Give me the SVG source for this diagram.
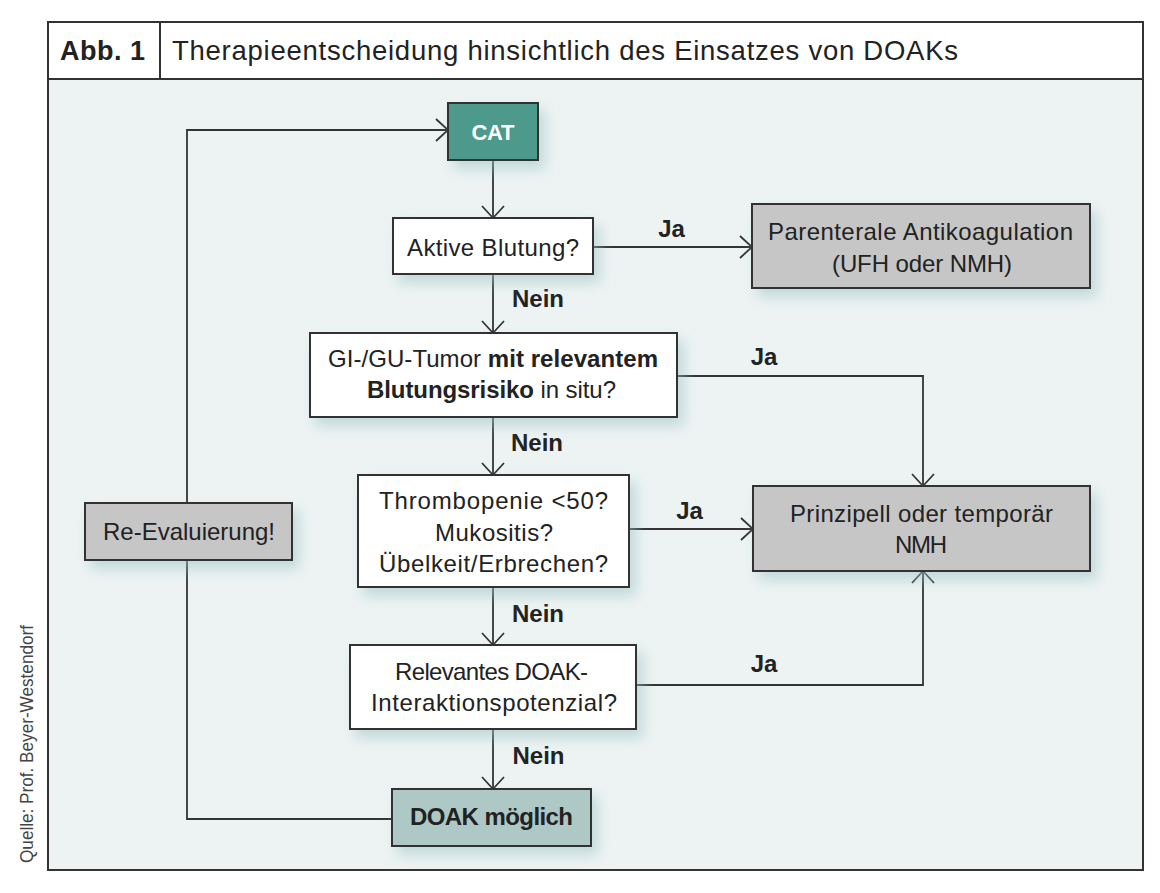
<svg xmlns="http://www.w3.org/2000/svg" width="1160" height="893" viewBox="0 0 1160 893">
<defs>
<style>
.t{font-family:"Liberation Sans",Arial,sans-serif;font-size:24px;fill:#222;text-anchor:middle}
.b{font-weight:bold}
.box{stroke:#333;stroke-width:2}
.w{fill:#fff}
.g{fill:#c6c6c6}
.c{fill:none;stroke:#333;stroke-width:1.8}
</style>
<marker id="arr" markerWidth="26" markerHeight="26" refX="13" refY="12" orient="auto" markerUnits="userSpaceOnUse">
<path d="M1,1 L13,12 L1,23" fill="none" stroke="#333" stroke-width="1.8"/>
</marker>
<filter id="sh" x="-20%" y="-30%" width="150%" height="180%">
<feDropShadow dx="6" dy="8" stdDeviation="7" flood-color="#9cc2c2" flood-opacity="0.55"/>
</filter>
</defs>
<rect x="0" y="0" width="1160" height="893" fill="#fff"/>
<rect x="48" y="22" width="1095" height="848" fill="#edf3f3" stroke="#333" stroke-width="2"/>
<rect x="48" y="22" width="1095" height="57" fill="#fff" stroke="#333" stroke-width="2"/>
<line x1="160" y1="22" x2="160" y2="79" stroke="#333" stroke-width="2"/>
<text class="t b" x="102.5" y="60" style="font-size:27px" textLength="85">Abb. 1</text>
<text class="t" x="172" y="60" style="font-size:27.5px;text-anchor:start" textLength="786">Therapieentscheidung hinsichtlich des Einsatzes von DOAKs</text>
<text class="t" style="font-size:18px;fill:#444" transform="translate(33,744) rotate(-90)" textLength="238" lengthAdjust="spacingAndGlyphs">Quelle: Prof. Beyer-Westendorf</text>

<g id="connectors">
<polyline class="c" points="392,819 187,819 187,130 448,130" marker-end="url(#arr)"/>
<line class="c" x1="493" y1="160" x2="493" y2="218" marker-end="url(#arr)"/>
<line class="c" x1="593" y1="247" x2="752" y2="247" marker-end="url(#arr)"/>
<text class="t b" x="671.5" y="237">Ja</text>
<line class="c" x1="493" y1="274" x2="493" y2="333" marker-end="url(#arr)"/>
<text class="t b" x="538" y="307">Nein</text>
<polyline class="c" points="677,376 923,376 923,486" marker-end="url(#arr)"/>
<text class="t b" x="764" y="365">Ja</text>
<line class="c" x1="493" y1="417" x2="493" y2="475" marker-end="url(#arr)"/>
<text class="t b" x="537" y="451">Nein</text>
<line class="c" x1="629" y1="529" x2="753" y2="529" marker-end="url(#arr)"/>
<text class="t b" x="689.5" y="519">Ja</text>
<line class="c" x1="493" y1="587" x2="493" y2="645" marker-end="url(#arr)"/>
<text class="t b" x="538" y="622">Nein</text>
<polyline class="c" points="636,685 923,685 923,571" marker-end="url(#arr)"/>
<text class="t b" x="764" y="672">Ja</text>
<line class="c" x1="493" y1="729" x2="493" y2="789" marker-end="url(#arr)"/>
<text class="t b" x="538.5" y="764">Nein</text>
</g>

<g id="cat">
<rect class="box" x="448" y="103" width="90" height="57" fill="#4e9a8c" filter="url(#sh)"/>
<text class="t b" x="493" y="140" style="fill:#fff;font-size:22px" textLength="43">CAT</text>
</g>
<g id="aktive">
<rect class="box w" x="393" y="218" width="200" height="56" filter="url(#sh)"/>
<text class="t" x="493" y="256" textLength="172">Aktive Blutung?</text>
</g>
<g id="parenterale">
<rect class="box g" x="752" y="204" width="338" height="84" filter="url(#sh)"/>
<text class="t" x="920.5" y="240" textLength="305">Parenterale Antikoagulation</text>
<text class="t" x="922" y="272" textLength="180">(UFH oder NMH)</text>
</g>
<g id="tumor">
<rect class="box w" x="310" y="333" width="367" height="84" filter="url(#sh)"/>
<text class="t" x="493" y="367" textLength="330">GI-/GU-Tumor <tspan class="b">mit relevantem</tspan></text>
<text class="t" x="491.5" y="398" textLength="249"><tspan class="b">Blutungsrisiko</tspan> in situ?</text>
</g>
<g id="thrombo">
<rect class="box w" x="358" y="475" width="271" height="112" filter="url(#sh)"/>
<text class="t" x="493.5" y="509" textLength="229">Thrombopenie &lt;50?</text>
<text class="t" x="494" y="541" textLength="118">Mukositis?</text>
<text class="t" x="493.5" y="572" textLength="229">Übelkeit/Erbrechen?</text>
</g>
<g id="nmh">
<rect class="box g" x="753" y="486" width="337" height="85" filter="url(#sh)"/>
<text class="t" x="921.5" y="522" textLength="263">Prinzipell oder temporär</text>
<text class="t" x="921" y="553" textLength="52">NMH</text>
</g>
<g id="reeval">
<rect class="box g" x="85" y="503" width="207" height="57" filter="url(#sh)"/>
<text class="t" x="189" y="540" textLength="172">Re-Evaluierung!</text>
</g>
<g id="interaktion">
<rect class="box w" x="350" y="645" width="286" height="84" filter="url(#sh)"/>
<text class="t" x="491.5" y="680" textLength="193">Relevantes DOAK-</text>
<text class="t" x="494" y="711" textLength="246">Interaktionspotenzial?</text>
</g>
<g id="doak">
<rect class="box" x="392" y="789" width="199" height="57" fill="#aec9c5" filter="url(#sh)"/>
<text class="t b" x="491.5" y="825" textLength="163">DOAK möglich</text>
</g>
</svg>
